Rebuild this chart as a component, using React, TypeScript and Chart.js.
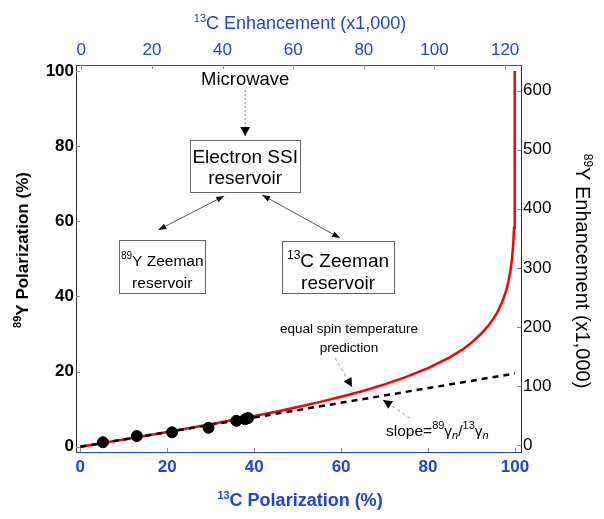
import React, { useEffect, useRef } from 'react';
import { Chart, registerables } from 'chart.js';

Chart.register(...registerables);

const FONT = '"Liberation Sans", Arial, Helvetica, sans-serif';
const BLUE = '#1f43dc';

// ---- data ----
const xTicks = [0, 20, 40, 60, 80, 100];
const yTicks = [0, 20, 40, 60, 80, 100];
const topTicks = [0, 20, 40, 60, 80, 100, 120];
const rightTicks = [0, 100, 200, 300, 400, 500, 600];

const measuredC = [5.2, 13.0, 21.1, 29.5, 35.9, 37.9, 38.6];
const measuredY = [1.2, 2.85, 3.85, 5.05, 6.9, 7.3, 7.65];

const predC = [0, 10, 20, 30, 40, 45, 50, 55, 60, 65, 70, 75, 80, 85, 88, 90, 92, 94, 95, 96, 97, 98, 98.5, 99, 99.3, 99.6, 99.8, 99.9, 99.95, 99.98, 99.99, 100];
const predY = [0, 1.94, 3.91, 5.97, 8.16, 9.33, 10.56, 11.88, 13.3, 14.85, 16.6, 18.6, 20.9, 23.8, 25.9, 27.7, 29.8, 32.4, 34.0, 35.9, 38.3, 41.6, 43.9, 47.1, 49.7, 53.7, 58.3, 62.5, 66.4, 71.1, 74.2, 100];

const slopeC = [0, 100];
const slopeY = [0, 19.5];

type Seg = { t: string; sup?: boolean; sub?: boolean; italic?: boolean };

function drawRich(ctx: CanvasRenderingContext2D, segs: Seg[], x: number, yc: number, size: number, weight: string, color: string, align: string = 'center', supScale: number = 0.62) {
  const small = Math.round(size * supScale);
  const f = (s: Seg) => `${s.italic ? 'italic ' : ''}${weight} ${s.sup || s.sub ? small : size}px ${FONT}`;
  let w = 0;
  const ws = segs.map((s) => {
    ctx.font = f(s);
    const m = ctx.measureText(s.t).width;
    w += m;
    return m;
  });
  let cx = align === 'center' ? x - w / 2 : align === 'right' ? x - w : x;
  const base = yc + size * 0.36;
  ctx.fillStyle = color;
  ctx.textAlign = 'left';
  ctx.textBaseline = 'alphabetic';
  segs.forEach((s, i) => {
    ctx.font = f(s);
    const dy = s.sup ? -size * 0.42 : s.sub ? size * 0.2 : 0;
    ctx.fillText(s.t, cx, base + dy);
    cx += ws[i];
  });
}

function arrow(ctx: CanvasRenderingContext2D, x1: number, y1: number, x2: number, y2: number, o: any) {
  ctx.save();
  ctx.strokeStyle = o.color;
  ctx.lineWidth = o.width;
  ctx.setLineDash(o.dash || []);
  ctx.beginPath();
  ctx.moveTo(x1, y1);
  ctx.lineTo(x2, y2);
  ctx.stroke();
  ctx.setLineDash([]);
  ctx.fillStyle = o.headColor;
  const head = (tx: number, ty: number, fx: number, fy: number) => {
    const a = Math.atan2(ty - fy, tx - fx);
    const c = Math.cos(a), s = Math.sin(a);
    ctx.beginPath();
    ctx.moveTo(tx, ty);
    ctx.lineTo(tx - o.hl * c + o.hw * s, ty - o.hl * s - o.hw * c);
    ctx.lineTo(tx - o.hl * c - o.hw * s, ty - o.hl * s + o.hw * c);
    ctx.closePath();
    ctx.fill();
  };
  if (o.head2) head(x2, y2, x1, y1);
  if (o.head1) head(x1, y1, x2, y2);
  ctx.restore();
}

const annotPlugin = {
  id: 'annot',
  afterDraw(chart: any) {
    const ctx: CanvasRenderingContext2D = chart.ctx;
    const { left, right, top, bottom } = chart.chartArea;
    const xs = chart.scales.x, ys = chart.scales.y, xt = chart.scales.x2, yr = chart.scales.y2;
    const X = (v: number) => xs.getPixelForValue(v);
    const Y = (v: number) => ys.getPixelForValue(v);
    ctx.save();
    // inward tick marks
    ctx.strokeStyle = '#8a8a8a';
    ctx.lineWidth = 1;
    ctx.beginPath();
    xTicks.forEach((v) => { const p = Math.round(X(v)) + 0.5; ctx.moveTo(p, bottom); ctx.lineTo(p, bottom - 4); });
    topTicks.forEach((v) => { const p = Math.round(xt.getPixelForValue(v)) + 0.5; ctx.moveTo(p, top); ctx.lineTo(p, top + 4); });
    yTicks.forEach((v) => { const p = Math.round(Y(v)) + 0.5; ctx.moveTo(left, p); ctx.lineTo(left + 4, p); });
    rightTicks.forEach((v) => { const p = Math.round(yr.getPixelForValue(v)) + 0.5; ctx.moveTo(right, p); ctx.lineTo(right - 4, p); });
    ctx.stroke();

    // axis titles
    drawRich(ctx, [{ t: '13', sup: true }, { t: 'C Enhancement (x1,000)' }], 300, 23, 18, 'normal', BLUE);
    drawRich(ctx, [{ t: '13', sup: true }, { t: 'C Polarization (%)' }], 300, 500, 18, 'bold', BLUE);
    ctx.save();
    ctx.translate(22, 250);
    ctx.rotate(-Math.PI / 2);
    drawRich(ctx, [{ t: '89', sup: true }, { t: 'Y Polarization (%)' }], 0, 0, 17, 'bold', '#000');
    ctx.restore();
    ctx.save();
    ctx.translate(583, 271);
    ctx.rotate(Math.PI / 2);
    drawRich(ctx, [{ t: '89', sup: true }, { t: 'Y Enhancement (x1,000)' }], 0, 0, 20, 'normal', '#000');
    ctx.restore();

    // diagram
    const DF = 19;
    drawRich(ctx, [{ t: 'Microwave' }], X(37.93), Y(98.13), 18.5, 'normal', '#000');
    arrow(ctx, X(37.93), Y(94.9), X(37.93), Y(82.7), { color: '#777', width: 1, dash: [2, 2], headColor: '#000', head2: true, hl: 9, hw: 5 });

    ctx.strokeStyle = '#666';
    ctx.lineWidth = 1;
    const box = (x1: number, y1: number, x2: number, y2: number) => {
      const a = Math.round(X(x1)) + 0.5, b = Math.round(Y(y1)) + 0.5, c = Math.round(X(x2)) + 0.5, d = Math.round(Y(y2)) + 0.5;
      ctx.strokeRect(a, b, c - a, d - b);
    };
    box(25.29, 81.64, 50.57, 67.8);
    drawRich(ctx, [{ t: 'Electron SSI' }], X(37.93), Y(77.38), DF, 'normal', '#000');
    drawRich(ctx, [{ t: 'reservoir' }], X(37.93), Y(71.79), DF, 'normal', '#000');

    box(8.97, 55.03, 28.74, 40.9);
    drawRich(ctx, [{ t: '89', sup: true }, { t: 'Y Zeeman' }], X(18.85), Y(49.7), 15.5, 'normal', '#000');
    drawRich(ctx, [{ t: 'reservoir' }], X(18.85), Y(43.8), 15.5, 'normal', '#000');

    box(46.44, 54.77, 72.18, 40.9);
    drawRich(ctx, [{ t: '13', sup: true }, { t: 'C Zeeman' }], X(59.3), Y(49.7), DF, 'normal', '#000');
    drawRich(ctx, [{ t: 'reservoir' }], X(59.3), Y(43.8), DF, 'normal', '#000');

    const dbl = { color: '#555', width: 1, headColor: '#111', head1: true, head2: true, hl: 8, hw: 3 };
    arrow(ctx, X(33.1), Y(66.74), X(17.93), Y(57.69), dbl);
    arrow(ctx, X(41.84), Y(67.0), X(59.77), Y(55.55), dbl);

    drawRich(ctx, [{ t: 'equal spin temperature' }], X(61.84), Y(31.6), 13.5, 'normal', '#000');
    drawRich(ctx, [{ t: 'prediction' }], X(61.84), Y(26.54), 13.5, 'normal', '#000');
    arrow(ctx, X(58.62), Y(23.61), X(62.53), Y(15.89), { color: '#999', width: 1, dash: [3, 3], headColor: '#000', head2: true, hl: 9, hw: 4.5 });

    drawRich(ctx, [
      { t: 'slope=' }, { t: '89', sup: true }, { t: 'γ' }, { t: 'n', sub: true, italic: true },
      { t: '/' }, { t: '13', sup: true }, { t: 'γ' }, { t: 'n', sub: true, italic: true },
    ], X(70.34), Y(4.44), 15.5, 'normal', '#000', 'left', 0.7);
    arrow(ctx, X(75.86), Y(7.64), X(69.66), Y(12.43), { color: '#999', width: 1, dash: [3, 3], headColor: '#000', head2: true, hl: 9, hw: 4.5 });

    ctx.restore();
  },
};

export default function App() {
  const ref = useRef<HTMLCanvasElement | null>(null);
  useEffect(() => {
    document.body.style.margin = '0';
    document.body.style.overflow = 'hidden';
    const canvas = ref.current!;
    const fixTicks = (vals: number[]) => (s: any) => { s.ticks = vals.map((v) => ({ value: v })); };
    const chart = new Chart(canvas, {
      type: 'scatter',
      data: {
        datasets: [
          {
            label: 'measured',
            data: measuredC.map((c, i) => ({ x: c, y: measuredY[i] })),
            backgroundColor: '#000',
            borderColor: '#000',
            pointRadius: 5.5,
            showLine: false,
            order: 0,
          },
          {
            label: 'slope',
            data: slopeC.map((c, i) => ({ x: c, y: slopeY[i] })),
            borderColor: '#000',
            borderWidth: 2.5,
            borderDash: [6, 5],
            pointRadius: 0,
            showLine: true,
            order: 1,
          },
          {
            label: 'prediction',
            data: predC.map((c, i) => ({ x: c, y: predY[i] })),
            borderColor: '#ff0000',
            borderWidth: 2.5,
            pointRadius: 0,
            showLine: true,
            tension: 0,
            order: 2,
          },
        ],
      },
      options: {
        animation: false,
        responsive: false,
        devicePixelRatio: 1,
        layout: { padding: 0 },
        plugins: { legend: { display: false }, tooltip: { enabled: false } },
        scales: {
          x: {
            type: 'linear', position: 'bottom', min: -1, max: 101.4,
            afterBuildTicks: fixTicks(xTicks),
            afterFit: (s: any) => { s.height = 67; },
            grid: { display: false, drawTicks: false },
            border: { display: true, color: BLUE, width: 1 },
            ticks: { color: BLUE, padding: 5, maxRotation: 0, autoSkip: false, font: { family: FONT, size: 17, weight: 'bold' } },
          },
          x2: {
            type: 'linear', position: 'top', min: -1.5, max: 124.5,
            afterBuildTicks: fixTicks(topTicks),
            afterFit: (s: any) => { s.height = 65; },
            grid: { display: false, drawTicks: false },
            border: { display: true, color: BLUE, width: 1 },
            ticks: { color: BLUE, padding: 4, maxRotation: 0, autoSkip: false, font: { family: FONT, size: 17, weight: 'normal' } },
          },
          y: {
            type: 'linear', position: 'left', min: -1.4, max: 101.6,
            afterBuildTicks: fixTicks(yTicks),
            afterFit: (s: any) => { s.width = 76; },
            grid: { display: false, drawTicks: false },
            border: { display: true, color: '#333', width: 1 },
            ticks: { color: '#000', padding: 2, autoSkip: false, font: { family: FONT, size: 17, weight: 'bold' } },
          },
          y2: {
            type: 'linear', position: 'right', min: -11.9, max: 643.5,
            afterBuildTicks: fixTicks(rightTicks),
            afterFit: (s: any) => { s.width = 83; },
            grid: { display: false, drawTicks: false },
            border: { display: true, color: '#333', width: 1 },
            ticks: { color: '#000', padding: 2, autoSkip: false, font: { family: FONT, size: 17, weight: 'normal' } },
          },
        },
      },
      plugins: [annotPlugin],
    });
    return () => chart.destroy();
  }, []);
  return <canvas ref={ref} width={604} height={519} style={{ display: 'block' }} />;
}
